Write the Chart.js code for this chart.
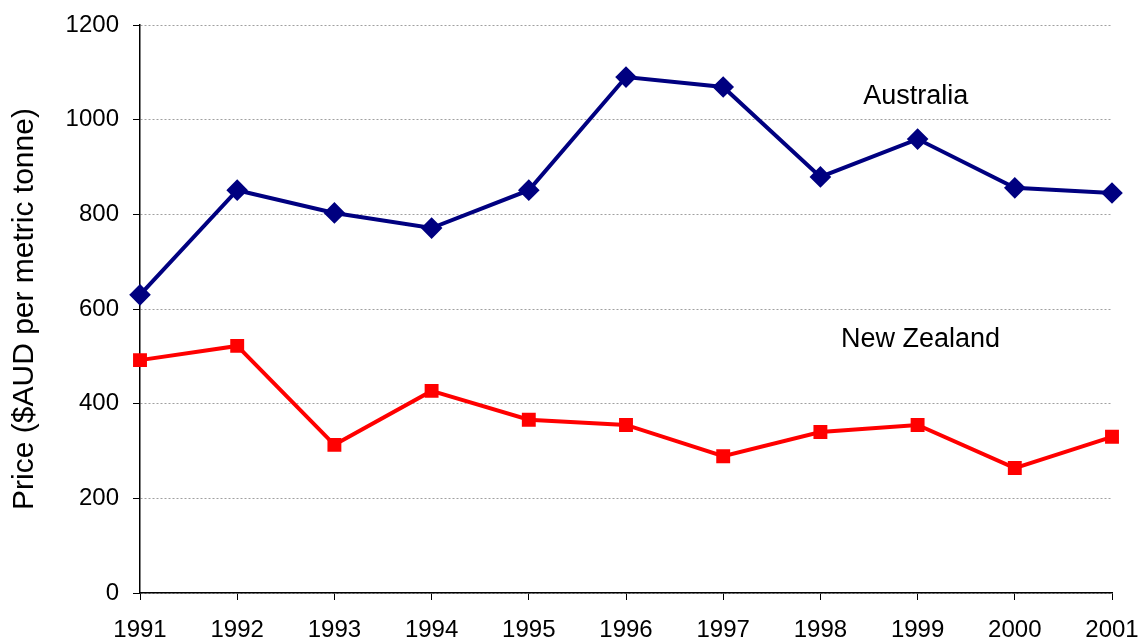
<!DOCTYPE html>
<html>
<head>
<meta charset="utf-8">
<script src="https://cdn.jsdelivr.net/npm/chart.js@4/dist/chart.umd.min.js"></script>
<style>
  html, body { margin: 0; padding: 0; background: #fff; }
  #wrap { width: 1141px; height: 639px; }
</style>
</head>
<body>
<div id="wrap"><canvas id="myChart" width="1141" height="639"></canvas></div>
<script>
'use strict';

const years = ['1991', '1992', '1993', '1994', '1995', '1996', '1997', '1998', '1999', '2000', '2001'];
const australia = [630, 851, 803, 771, 851, 1090, 1069, 879, 959, 856, 845];
const newZealand = [492, 522, 313, 427, 366, 355, 289, 340, 355, 264, 330];
const yTicks = [0, 200, 400, 600, 800, 1000, 1200];

// series names written inside the plot, placed by category index and value
const seriesLabels = [
  { text: 'Australia', index: 7.98, value: 1049 },
  { text: 'New Zealand', index: 8.03, value: 536 },
];

const family = '"Liberation Sans", Arial, sans-serif';

const labelPlugin = {
  id: 'seriesLabels',
  afterDatasetsDraw(chart) {
    const ctx = chart.ctx;
    const x = chart.scales.x;
    const y = chart.scales.y;
    ctx.save();
    ctx.font = '27px ' + family;
    ctx.fillStyle = '#000';
    ctx.textAlign = 'center';
    ctx.textBaseline = 'middle';
    seriesLabels.forEach(l => {
      ctx.fillText(l.text, x.getPixelForValue(l.index), y.getPixelForValue(l.value));
    });
    ctx.restore();
  }
};

const font = { family: family, size: 24 };

const ctx = document.getElementById('myChart');
const myChart = new Chart(ctx, {
  type: 'line',
  data: {
    labels: years,
    datasets: [{
      label: 'Australia',
      data: australia,
      borderColor: '#000080',
      backgroundColor: '#000080',
      borderWidth: 4,
      pointStyle: 'rectRot',
      pointRadius: 8,
      tension: 0,
    }, {
      label: 'New Zealand',
      data: newZealand,
      borderColor: '#ff0000',
      backgroundColor: '#ff0000',
      borderWidth: 4,
      pointStyle: 'rect',
      pointRadius: 7,
      tension: 0,
    }]
  },
  options: {
    responsive: false,
    animation: false,
    layout: { padding: { top: 25, right: 29, left: 0, bottom: 0 } },
    plugins: { legend: { display: false }, tooltip: { enabled: false } },
    scales: {
      x: {
        offset: false,
        grid: { drawOnChartArea: false, drawTicks: true, tickLength: 7, tickColor: '#000' },
        border: { color: '#000', width: 1.5 },
        ticks: { color: '#000', font: font, maxRotation: 0, autoSkip: false, padding: 16 },
        afterFit(scale) {
          scale.height = 46;
          scale.paddingLeft = 0;
          scale.paddingRight = 0;
        }
      },
      y: {
        min: 0,
        max: 1200,
        afterBuildTicks(scale) { scale.ticks = yTicks.map(v => ({ value: v })); },
        grid: { color: '#a0a0a0', lineWidth: 1, tickLength: 7, tickColor: '#000' },
        border: { color: '#000', width: 1.5, dash: [2, 2] },
        ticks: { color: '#000', font: font, padding: 14, callback: v => String(v) },
        title: {
          display: true,
          text: 'Price ($AUD per metric tonne)',
          color: '#000',
          font: { family: family, size: 30 },
          padding: { top: 7, bottom: 0 }
        },
        afterFit(scale) {
          scale.width = 140;
          scale.paddingTop = 0;
          scale.paddingBottom = 0;
        }
      }
    }
  },
  plugins: [labelPlugin]
});
</script>
</body>
</html>
